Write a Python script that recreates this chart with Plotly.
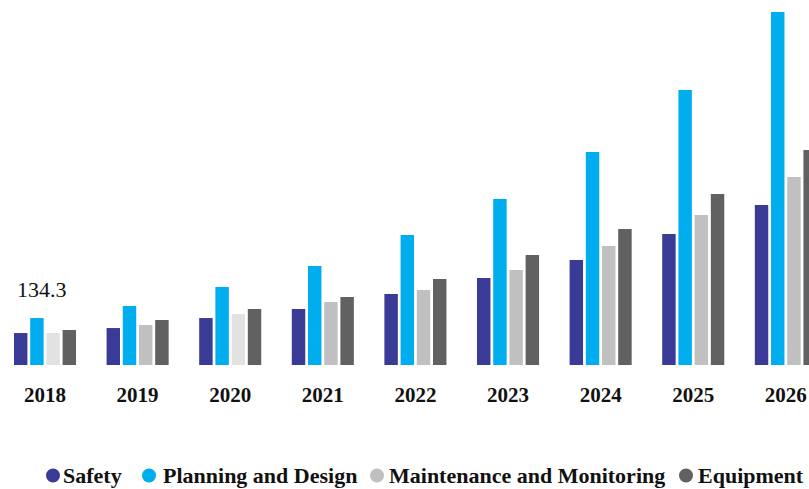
import plotly.graph_objects as go

years = ["2018", "2019", "2020", "2021", "2022", "2023", "2024", "2025", "2026"]
safety = [29.4, 34.0, 43.2, 51.5, 65.3, 80.0, 96.6, 120.5, 147.2]
planning = [43.2, 54.3, 71.8, 91.1, 119.6, 152.7, 196.0, 253.0, 324.8]
maintenance = [29.4, 36.8, 46.9, 58.0, 69.0, 87.4, 109.5, 138.0, 173.0]
equipment = [32.2, 41.4, 51.5, 62.6, 79.1, 101.2, 125.1, 157.3, 197.8]
label_2018 = "134.3"

names = ["Safety", "Planning and Design", "Maintenance and Monitoring", "Equipment"]
colors = ["#3a3b96", "#00adef", "#c0c0c0", "#616161"]
maint_colors = ["#e2e2e2" if y in ("2018", "2020") else "#c0c0c0" for y in years]

SERIF = "Liberation Serif"

fig = go.Figure()
series = [safety, planning, maintenance, equipment]
for i, (nm, vals) in enumerate(zip(names, series)):
    fig.add_trace(go.Bar(
        x=years, y=vals, name=nm, showlegend=False,
        marker=dict(color=maint_colors if i == 2 else colors[i], line=dict(width=0)),
    ))

# value label above 2018 group
fig.add_annotation(
    x=0, y=planning[0], text=label_2018, showarrow=False,
    xref="x", yref="y", yanchor="bottom", xshift=-3, yshift=14,
    font=dict(family=SERIF, size=22, color="#111111"),
)

# custom legend (circle glyph + label)
W = 809.0
PH = 365.0
leg_y = (365 - 475.5) / PH
circle_x = [53, 149, 377, 686]
text_x = [62, 162, 388, 697]
for nm, c, cx, tx in zip(names, colors, circle_x, text_x):
    fig.add_shape(
        type="circle", xref="paper", yref="paper",
        xsizemode="pixel", ysizemode="pixel",
        xanchor=cx / W, yanchor=leg_y,
        x0=-7, x1=7, y0=-7, y1=7,
        fillcolor=c, line=dict(width=0),
    )
    fig.add_annotation(
        x=tx / W, y=leg_y, xref="paper", yref="paper",
        xanchor="left", yanchor="middle", text="<b>%s</b>" % nm,
        showarrow=False, borderpad=0,
        font=dict(family=SERIF, size=22, color="#111111"),
    )

fig.update_layout(
    width=809, height=489,
    margin=dict(l=0, r=0, t=0, b=124),
    paper_bgcolor="white", plot_bgcolor="white",
    barmode="group", bargap=0.30, bargroupgap=0.17,
    font=dict(family=SERIF, color="#111111"),
    showlegend=False,
    xaxis=dict(
        type="category", range=[-0.486, 8.25], showgrid=False, zeroline=False,
        showline=False, ticks="", ticklabelstandoff=15,
        tickfont=dict(family=SERIF, size=21, color="#111111", weight="bold"),
    ),
    yaxis=dict(range=[0, 335.8], visible=False, showgrid=False, zeroline=False),
)

fig.write_html(
    "out.html",
    config={"displayModeBar": False},
    post_script="document.body.style.margin='0';document.body.style.overflow='hidden';",
)
